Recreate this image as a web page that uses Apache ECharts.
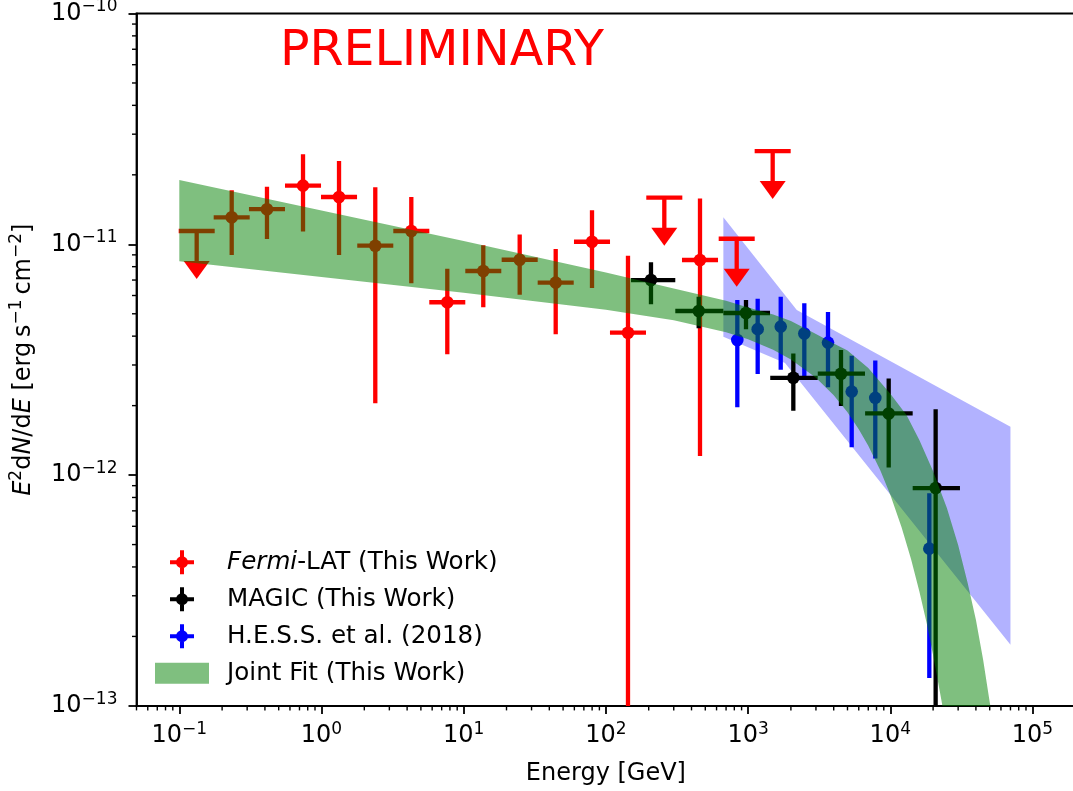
<!DOCTYPE html>
<html>
<head>
<meta charset="utf-8">
<title>SED</title>
<script src="https://cdn.jsdelivr.net/npm/echarts@6/dist/echarts.min.js"></script>
<style>
  html, body { margin: 0; padding: 0; background: #fff; }
  #chart { width: 1073px; height: 791px; }
</style>
</head>
<body>
<div id="chart"></div>
<script>
// Fermi-LAT (energy in GeV, E2dN/dE in erg s^-1 cm^-2), fermiUL = 1 for upper limits
const fermiE   = [0.1325, 0.2336, 0.4136, 0.7413, 1.328, 2.389, 4.281, 7.667, 13.73, 24.76, 44.36, 79.85, 143.0, 257.5, 458.9, 831.5, 1489];
const fermiELo = [0.0990, 0.1745, 0.3089, 0.5537, 0.992, 1.784, 3.198, 5.727, 10.26, 18.49, 33.13, 59.64, 106.8, 192.3, 342.8, 621.1, 1112];
const fermiEHi = [0.1774, 0.3127, 0.5537, 0.9925, 1.778, 3.198, 5.731, 10.26, 18.38, 33.15, 59.39, 106.9, 191.4, 344.7, 614.4, 1113, 1993];
const fermiF   = [1.142e-11, 1.309e-11, 1.419e-11, 1.795e-11, 1.603e-11, 9.86e-12, 1.142e-11, 5.61e-12, 7.66e-12, 8.57e-12, 6.82e-12, 1.026e-11, 4.14e-12, 1.592e-11, 8.55e-12, 1.057e-11, 2.535e-11];
const fermiFLo = [null, 8.99e-12, 1.054e-11, 1.135e-11, 8.99e-12, 2.05e-12, 6.78e-12, 3.34e-12, 5.33e-12, 6.05e-12, 4.08e-12, 6.47e-12, 1e-14, null, 1.21e-12, null, null];
const fermiFHi = [null, 1.714e-11, 1.777e-11, 2.455e-11, 2.296e-11, 1.766e-11, 1.603e-11, 7.83e-12, 9.90e-12, 1.104e-11, 9.55e-12, 1.403e-11, 8.93e-12, null, 1.578e-11, null, null];
const fermiUL  = [1, 0, 0, 0, 0, 0, 0, 0, 0, 0, 0, 0, 0, 1, 0, 1, 1];

// MAGIC
const magicE   = [207.5, 449.5, 966.5, 2080, 4501, 9745, 20840];
const magicELo = [150.2, 307.6, 670, 1431, 3090, 6650, 14370];
const magicEHi = [307.6, 670, 1426, 3087, 6637, 14370, 30900];
const magicF   = [7.00e-12, 5.14e-12, 5.04e-12, 2.64e-12, 2.75e-12, 1.85e-12, 8.79e-13];
const magicFLo = [5.50e-12, 4.33e-12, 4.28e-12, 1.90e-12, 1.99e-12, 1.08e-12, 1e-14];
const magicFHi = [8.36e-12, 5.93e-12, 5.74e-12, 3.36e-12, 3.48e-12, 2.62e-12, 1.93e-12];

// H.E.S.S. et al. (2018)
const hessE   = [839.8, 1168, 1696, 2485, 3647, 5353, 7842, 18810];
const hessF   = [3.85e-12, 4.29e-12, 4.40e-12, 4.11e-12, 3.75e-12, 2.30e-12, 2.16e-12, 4.80e-13];
const hessFLo = [1.97e-12, 2.74e-12, 2.86e-12, 2.69e-12, 2.40e-12, 1.32e-12, 1.18e-12, 1.32e-13];
const hessFHi = [5.74e-12, 5.81e-12, 5.92e-12, 5.55e-12, 5.09e-12, 3.29e-12, 3.14e-12, 8.35e-13];

// H.E.S.S. band edges
const hessBandUpE = [670, 2200, 7e4];
const hessBandUpF = [1.31e-11, 5.19e-12, 1.62e-12];
const hessBandLoE = [670, 1818, 7e4];
const hessBandLoF = [3.98e-12, 3.06e-12, 1.84e-13];

// joint fit band edges
const fitUpE = [0.1, 1, 10, 100, 300, 700, 1000, 1500, 2000, 3000, 4000, 5000, 7000, 1e4, 1.3e4, 1.6e4, 2e4, 2.5e4, 3e4, 3.5e4, 4e4, 4.5e4, 5e4, 6e4];
const fitUpF = [1.900e-11, 1.400e-11, 1.033e-11, 7.55e-12, 6.44e-12, 5.69e-12, 5.32e-12, 4.96e-12, 4.65e-12, 4.09e-12, 3.72e-12, 3.47e-12, 2.91e-12, 2.25e-12, 1.82e-12, 1.42e-12, 1.04e-12, 7.20e-13, 4.98e-13, 3.41e-13, 2.36e-13, 1.58e-13, 1.04e-13, 5.28e-14];
const fitLoE = [0.1, 1, 10, 100, 300, 700, 1000, 1500, 2000, 3000, 4000, 5000, 6000, 7000, 8500, 1e4, 1.2e4, 1.4e4, 1.6e4, 1.8e4, 2e4, 2.3e4, 2.6e4];
const fitLoF = [8.44e-12, 7.22e-12, 6.17e-12, 5.20e-12, 4.69e-12, 4.16e-12, 3.88e-12, 3.49e-12, 3.17e-12, 2.64e-12, 2.22e-12, 1.87e-12, 1.58e-12, 1.34e-12, 1.05e-12, 8.23e-13, 5.95e-13, 4.32e-13, 3.14e-13, 2.29e-13, 1.66e-13, 1.04e-13, 6.45e-14];

const xMin = 0.05, xMax = 2e5, yMin = 1e-13, yMax = 1e-10;
const FONT = '"DejaVu Sans", sans-serif';

// minor tick positions (2..9 per decade)
const xMinor = [], yMinor = [];
for (let d = -2; d <= 5; d++) {
  for (let m = 2; m <= 9; m++) {
    const v = m * Math.pow(10, d);
    if (v >= xMin && v <= xMax) xMinor.push([v, yMin]);
  }
}
for (let d = -13; d <= -11; d++) {
  for (let m = 2; m <= 9; m++) yMinor.push([xMin, m * Math.pow(10, d)]);
}

function renderErrorBar(params, api) {
  const e = api.value(0), f = api.value(1);
  const color = api.visual('color');
  const c = api.coord([e, f]);
  const lw = 4.3;
  const kids = [];
  const eLo = api.value(2), eHi = api.value(3);
  if (eHi > eLo) {
    const l = api.coord([eLo, f]), r = api.coord([eHi, f]);
    kids.push({ type: 'line', shape: { x1: l[0], y1: c[1], x2: r[0], y2: c[1] }, style: { stroke: color, lineWidth: lw } });
  }
  if (api.value(6) === 1) {
    kids.push({ type: 'line', shape: { x1: c[0], y1: c[1], x2: c[0], y2: c[1] + 31 }, style: { stroke: color, lineWidth: lw } });
    kids.push({ type: 'polygon', shape: { points: [[c[0] - 13, c[1] + 30], [c[0] + 13, c[1] + 30], [c[0], c[1] + 48]] }, style: { fill: color } });
  } else {
    const t = api.coord([e, api.value(5)]), b = api.coord([e, api.value(4)]);
    kids.push({ type: 'line', shape: { x1: c[0], y1: t[1], x2: c[0], y2: b[1] }, style: { stroke: color, lineWidth: lw } });
    kids.push({ type: 'circle', shape: { cx: c[0], cy: c[1], r: 6.3 }, style: { fill: color } });
  }
  return { type: 'group', children: kids };
}

function bandRenderer(upE, upF, loE, loF, fill) {
  return function (params, api) {
    const pts = [];
    for (let i = 0; i < upE.length; i++) pts.push(api.coord([upE[i], upF[i]]));
    for (let i = loE.length - 1; i >= 0; i--) pts.push(api.coord([loE[i], loF[i]]));
    return { type: 'polygon', shape: { points: pts }, style: { fill: fill } };
  };
}

function expLabel(v) {
  const p = Math.round(Math.log10(v));
  return '{b|10}{s|' + String(p).replace('-', '\u2212') + '}';
}

const crossIcon = 'path://M0,10L24,10L24,14L0,14Z M10,0L14,0L14,24L10,24Z M6,12A6,6 0 1,1 18,12A6,6 0 1,1 6,12Z';
const rectIcon = 'path://M0,0L54,0L54,21L0,21Z';

const fermiData = fermiE.map((e, i) => [e, fermiF[i], fermiELo[i], fermiEHi[i],
  fermiFLo[i] == null ? fermiF[i] : fermiFLo[i], fermiFHi[i] == null ? fermiF[i] : fermiFHi[i], fermiUL[i]]);
const magicData = magicE.map((e, i) => [e, magicF[i], magicELo[i], magicEHi[i], magicFLo[i], magicFHi[i], 0]);
const hessData = hessE.map((e, i) => [e, hessF[i], e, e, hessFLo[i], hessFHi[i], 0]);

const labelRich = {
  b: { fontFamily: FONT, fontSize: 24, color: '#000', lineHeight: 30 },
  s: { fontFamily: FONT, fontSize: 17, color: '#000', lineHeight: 17, verticalAlign: 'top' }
};

const chart = echarts.init(document.getElementById('chart'), null, { renderer: 'canvas' });
chart.setOption({
  animation: false,
  backgroundColor: '#fff',
  grid: {
    left: 136.5, top: 13.5, width: 938.8, height: 692.4,
    show: true, borderColor: '#000', borderWidth: 1.8,
    containLabel: false, outerBoundsMode: 'none'
  },
  xAxis: {
    type: 'log', logBase: 10, min: xMin, max: xMax,
    name: 'Energy [GeV]', nameLocation: 'middle', nameGap: 56,
    nameTextStyle: { fontFamily: FONT, fontSize: 24, color: '#000' },
    axisLine: { show: true, lineStyle: { color: '#000', width: 1.8 } },
    axisTick: { show: true, length: 8, lineStyle: { color: '#000', width: 1.8 } },
    axisLabel: { margin: 15, formatter: expLabel, rich: labelRich, showMinLabel: false, showMaxLabel: false },
    splitLine: { show: false }
  },
  yAxis: {
    type: 'log', logBase: 10, min: yMin, max: yMax,
    name: '{i|E}{s|2}d{i|N}/d{i|E} [erg\u2009s{s|\u22121}\u2009cm{s|\u22122}]',
    nameLocation: 'middle', nameGap: 98,
    nameTextStyle: {
      fontFamily: FONT, fontSize: 24, color: '#000',
      rich: {
        i: { fontFamily: FONT, fontSize: 24, fontStyle: 'italic', color: '#000', lineHeight: 30 },
        s: { fontFamily: FONT, fontSize: 17, color: '#000', lineHeight: 17, verticalAlign: 'top' }
      }
    },
    axisLine: { show: true, lineStyle: { color: '#000', width: 1.8 } },
    axisTick: { show: true, length: 8, lineStyle: { color: '#000', width: 1.8 } },
    axisLabel: { margin: 19, formatter: expLabel, rich: labelRich },
    splitLine: { show: false }
  },
  legend: {
    orient: 'vertical', left: 155, top: 549.7, padding: 0,
    itemWidth: 54, itemHeight: 24, itemGap: 12, selectedMode: false,
    textStyle: {
      fontFamily: FONT, fontSize: 24.6, color: '#000', lineHeight: 24, padding: [0, 0, 0, 13],
      rich: { i: { fontFamily: FONT, fontSize: 24.6, fontStyle: 'italic', color: '#000', lineHeight: 24 } }
    },
    formatter: name => name === 'Fermi-LAT (This Work)' ? '{i|Fermi}-LAT (This Work)' : name,
    data: [
      { name: 'Fermi-LAT (This Work)', icon: crossIcon, itemStyle: { color: '#ff0000' } },
      { name: 'MAGIC (This Work)', icon: crossIcon, itemStyle: { color: '#000000' } },
      { name: 'H.E.S.S. et al. (2018)', icon: crossIcon, itemStyle: { color: '#0000ff' } },
      { name: 'Joint Fit (This Work)', icon: rectIcon, itemStyle: { color: 'rgba(0,128,0,0.5)' } }
    ]
  },
  graphic: [{
    type: 'text', x: 280, y: 52,
    style: { text: 'PRELIMINARY', fill: '#ff0000', font: '49px "DejaVu Sans"', verticalAlign: 'middle', align: 'left' }
  }],
  series: [
    {
      name: 'H.E.S.S. band', type: 'custom', z: 1, clip: true, silent: true,
      itemStyle: { color: 'rgba(0,0,255,0.3)' },
      renderItem: bandRenderer(hessBandUpE, hessBandUpF, hessBandLoE, hessBandLoF, 'rgba(0,0,255,0.3)'),
      encode: { x: 0, y: 1 }, data: [[hessBandUpE[0], hessBandUpF[0]]]
    },
    {
      name: 'Fermi-LAT (This Work)', type: 'custom', z: 2, clip: true, silent: true,
      itemStyle: { color: '#ff0000' }, renderItem: renderErrorBar,
      encode: { x: 0, y: 1 }, data: fermiData
    },
    {
      name: 'H.E.S.S. et al. (2018)', type: 'custom', z: 3, clip: true, silent: true,
      itemStyle: { color: '#0000ff' }, renderItem: renderErrorBar,
      encode: { x: 0, y: 1 }, data: hessData
    },
    {
      name: 'MAGIC (This Work)', type: 'custom', z: 4, clip: true, silent: true,
      itemStyle: { color: '#000000' }, renderItem: renderErrorBar,
      encode: { x: 0, y: 1 }, data: magicData
    },
    {
      name: 'Joint Fit (This Work)', type: 'custom', z: 5, clip: true, silent: true,
      itemStyle: { color: 'rgba(0,128,0,0.5)' },
      renderItem: bandRenderer(fitUpE, fitUpF, fitLoE, fitLoF, 'rgba(0,128,0,0.5)'),
      encode: { x: 0, y: 1 }, data: [[fitUpE[0], fitUpF[0]]]
    },
    {
      name: 'x minor ticks', type: 'custom', z: 6, clip: false, silent: true,
      renderItem: (params, api) => {
        const p = api.coord([api.value(0), api.value(1)]);
        return { type: 'line', shape: { x1: p[0], y1: p[1], x2: p[0], y2: p[1] + 4.5 }, style: { stroke: '#000', lineWidth: 1.4 } };
      },
      encode: { x: 0, y: 1 }, data: xMinor
    },
    {
      name: 'y minor ticks', type: 'custom', z: 6, clip: false, silent: true,
      renderItem: (params, api) => {
        const p = api.coord([api.value(0), api.value(1)]);
        return { type: 'line', shape: { x1: p[0], y1: p[1], x2: p[0] - 4.5, y2: p[1] }, style: { stroke: '#000', lineWidth: 1.4 } };
      },
      encode: { x: 0, y: 1 }, data: yMinor
    }
  ]
});
</script>
</body>
</html>
